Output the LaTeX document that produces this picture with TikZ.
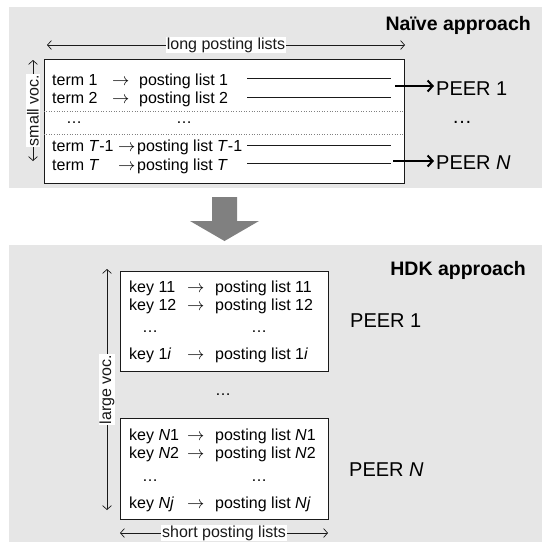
\documentclass[tikz,border=0pt]{standalone}
\usepackage{fontspec}
\setmainfont{Liberation Sans}
\usetikzlibrary{arrows.meta, positioning, calc}
\definecolor{panelgray}{HTML}{E6E6E6}
\definecolor{blockgray}{HTML}{808080}
\definecolor{inkdark}{HTML}{1A1A1A}

\begin{document}
\begin{tikzpicture}[x=1pt, y=-1pt,
    txt/.style={font=\fontsize{16}{19}\selectfont, inner sep=0pt, anchor=base west},
    peer/.style={font=\fontsize{20}{24}\selectfont, inner sep=0pt, anchor=base west},
    title/.style={font=\fontsize{19.5}{23}\selectfont\bfseries, inner sep=0pt, anchor=base east},
    listbox/.style={draw=inkdark, fill=white, line width=0.9pt, inner sep=0pt},
    span/.style={{Straight Barb[length=4pt,width=9pt]}-{Straight Barb[length=4pt,width=9pt]}, line width=0.7pt, inkdark},
    spanlabel/.style={fill=white, inner sep=1pt, font=\fontsize{16}{19}\selectfont},
    rule/.style={line width=0.9pt, inkdark},
    fat/.style={-{Straight Barb[length=5pt,width=11pt]}, line width=2pt, black}]
  \useasboundingbox (0,0) rectangle (542,542);

  % panels
  \fill[panelgray] (9,7) rectangle (542,188);
  \fill[panelgray] (9,245) rectangle (542,542);
  \fill[blockgray] (212,197) -- (237,197) -- (237,221) -- (259,221) -- (224.5,241)
    -- (190,221) -- (212,221) -- cycle;

  % naive approach
  \node[title] (naive) at (531,30) {Naïve approach};
  \node[listbox, minimum width=360, minimum height=124] (tbox) at (224,121) {};
  \draw[dotted, line width=0.6pt, gray] (tbox.west |- 0,111) -- (tbox.east |- 0,111);
  \draw[dotted, line width=0.6pt, gray] (tbox.west |- 0,134) -- (tbox.east |- 0,134);

  \node[txt] (t1) at (52,85) {term 1};
  \node[txt] (a1) at (112,85) {$\rightarrow$};
  \node[txt] (p1) at (139,85) {posting list 1};
  \node[txt] (t2) at (52,103) {term 2};
  \node[txt] (a2) at (112,103) {$\rightarrow$};
  \node[txt] (p2) at (139,103) {posting list 2};
  \node[txt] (td) at (66,123) {\dots};
  \node[txt] (pd) at (176,123) {\dots};
  \node[txt] (t3) at (52,151) {term \textit{T}-1};
  \node[txt] (a3) at (118,151) {$\rightarrow$};
  \node[txt] (p3) at (137,151) {posting list \textit{T}-1};
  \node[txt] (t4) at (52,170) {term \textit{T}};
  \node[txt] (a4) at (118,170) {$\rightarrow$};
  \node[txt] (p4) at (137,170) {posting list \textit{T}};
  \foreach \y in {78,97,145,163}
    \draw[rule] (247,\y) -- (391,\y);

  \node[peer] (peer1) at (436,95) {PEER 1};
  \node[peer] (peerd) at (452,123) {\dots};
  \node[peer] (peerN) at (436,169) {PEER \textit{N}};
  \coordinate (f1) at (395,86);
  \coordinate (f2) at (393,161);
  \draw[fat, shorten >=2pt] (f1) -- (f1 -| peer1.west);
  \draw[fat, shorten >=2pt] (f2) -- (f2 -| peerN.west);

  \coordinate (lpl-l) at (47,45);
  \coordinate (lpl-r) at (405,45);
  \draw[span] (lpl-l) -- (lpl-r) node[midway, spanlabel] (lpl) {long posting lists};
  \coordinate (sv-b) at (33,161);
  \coordinate (sv-t) at (33,60);
  \draw[span] (sv-b) -- (sv-t) node[midway, spanlabel, rotate=90] (sv) {small voc.};

  % HDK approach
  \node[title] (hdk) at (526,275) {HDK approach};
  \node[listbox, minimum width=208, minimum height=100] (box1) at (224,321) {};
  \node[listbox, minimum width=208, minimum height=101] (box2) at (224,468.5) {};

  \node[txt] (k11) at (129,292) {key 11};
  \node[txt] (ka11) at (187,292) {$\rightarrow$};
  \node[txt] (kp11) at (215,292) {posting list 11};
  \node[txt] (k12) at (129,310) {key 12};
  \node[txt] (ka12) at (187,310) {$\rightarrow$};
  \node[txt] (kp12) at (215,310) {posting list 12};
  \node[txt] (k1d) at (142,332) {\dots};
  \node[txt] (kp1d) at (251,332) {\dots};
  \node[txt] (k1i) at (129,359) {key 1\textit{i}};
  \node[txt] (ka1i) at (187,359) {$\rightarrow$};
  \node[txt] (kp1i) at (215,359) {posting list 1\textit{i}};

  \node[txt] (kN1) at (129,440) {key \textit{N}1};
  \node[txt] (kaN1) at (187,440) {$\rightarrow$};
  \node[txt] (kpN1) at (215,440) {posting list \textit{N}1};
  \node[txt] (kN2) at (129,458) {key \textit{N}2};
  \node[txt] (kaN2) at (187,458) {$\rightarrow$};
  \node[txt] (kpN2) at (215,458) {posting list \textit{N}2};
  \node[txt] (kNd) at (142,481) {\dots};
  \node[txt] (kpNd) at (251,481) {\dots};
  \node[txt] (kNj) at (129,508) {key \textit{Nj}};
  \node[txt] (kaNj) at (187,508) {$\rightarrow$};
  \node[txt] (kpNj) at (215,508) {posting list \textit{Nj}};

  \node[peer] (hpeer1) at (350,327) {PEER 1};
  \node[txt] (hdots) at (215,395) {\dots};
  \node[peer] (hpeerN) at (349,476) {PEER \textit{N}};

  \coordinate (lv-b) at (107,510);
  \coordinate (lv-t) at (107,269);
  \draw[span] (lv-b) -- (lv-t) node[midway, spanlabel, rotate=90] (lv) {large voc.};
  \coordinate (spl-l) at (120,533);
  \coordinate (spl-r) at (328,533);
  \draw[span] (spl-l) -- (spl-r) node[midway, spanlabel] (spl) {short posting lists};
\end{tikzpicture}
\end{document}
